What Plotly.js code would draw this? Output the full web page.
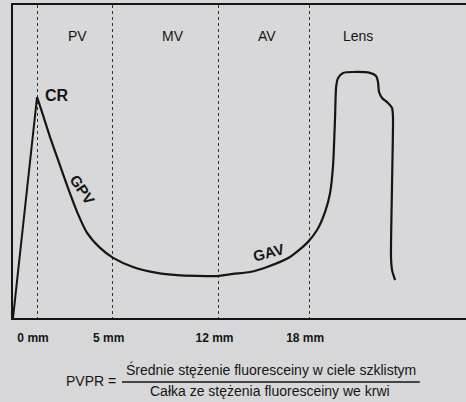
<!DOCTYPE html>
<html>
<head>
<meta charset="utf-8">
<script src="https://cdn.plot.ly/plotly-3.0.1.min.js"></script>
<style>
  html, body { margin: 0; padding: 0; background: #d7d7d9; }
  #chart { width: 466px; height: 402px; }
</style>
</head>
<body>
<div id="chart"></div>
<script>
// Position along the eye axis (mm) and relative fluorescein concentration (arbitrary units, 0-100)
const riseX = [-1.59, 0];
const riseY = [0, 70.6];

const curveX = [0, 0.33, 0.86, 1.39, 2.05, 2.71, 3.31, 4.17, 5.03, 6.35, 7.94, 9.26, 11.90, 12.96,
  14.09, 15.21, 16.73, 17.86, 18.52, 19.05, 19.38, 19.58, 19.71, 19.78, 19.91, 20.24, 20.90, 22.02,
  22.42, 22.55, 22.62, 22.82, 23.21, 23.48, 23.54, 23.48, 23.41, 23.48, 23.68];
const curveY = [70.6, 65.8, 57.8, 50.5, 41.5, 33.2, 27.2, 22.4, 19.2, 16.3, 14.4, 13.7, 13.4, 14.1,
  14.7, 16.3, 19.5, 24.0, 28.1, 33.9, 39.9, 48.9, 64.2, 73.8, 76.7, 78.3, 78.6, 78.3,
  77.3, 75.4, 72.2, 70.3, 68.7, 67.1, 64.2, 43.1, 19.5, 15.3, 12.1];

const tickVals = [0, 5, 12, 18];
const tickText = ['0 mm', '5 mm', '12 mm', '18 mm'];

const regionNames = ['PV', 'MV', 'AV', 'Lens'];
const regionX = [2.65, 9.0, 15.2, 21.2];
const regionY = [90.1, 90.1, 90.1, 90.1];

const curveLabels = ['CR', 'GPV', 'GAV'];
const curveLabelX = [1.32, 2.98, 15.28];
const curveLabelY = [71.2, 40.9, 20.8];
const curveLabelAngle = [0, 56, -15];

const formulaLeft = 'PVPR =';
const formulaNum = 'Średnie stężenie fluoresceiny w ciele szklistym';
const formulaDen = 'Całka ze stężenia fluoresceiny we krwi';

const ink = '#151515';
const font = 'Liberation Sans, Arial, sans-serif';

const traces = [
  { x: riseX, y: riseY, type: 'scatter', mode: 'lines',
    line: { color: ink, width: 2 }, hoverinfo: 'skip', showlegend: false },
  { x: curveX, y: curveY, type: 'scatter', mode: 'lines',
    line: { color: ink, width: 2.2, shape: 'spline', smoothing: 0.6 }, hoverinfo: 'skip', showlegend: false }
];

const annotations = [];
regionNames.forEach((t, i) => annotations.push({
  x: regionX[i], y: regionY[i], xref: 'x', yref: 'y', text: t, showarrow: false,
  xanchor: 'center', yanchor: 'middle',
  font: { family: font, size: 14, color: ink }
}));
curveLabels.forEach((t, i) => annotations.push({
  x: curveLabelX[i], y: curveLabelY[i], xref: 'x', yref: 'y', text: '<b>' + t + '</b>', showarrow: false,
  xanchor: 'center', yanchor: 'middle',
  textangle: curveLabelAngle[i], font: { family: font, size: i === 0 ? 16 : 15, color: ink }
}));
const formula = [
  { text: formulaLeft, x: 0.172, y: -0.201 },
  { text: formulaNum, x: 0.5695, y: -0.163 },
  { text: formulaDen, x: 0.567, y: -0.233 }
];
formula.forEach(f => annotations.push({
  x: f.x, y: f.y, xref: 'paper', yref: 'paper', text: f.text, showarrow: false,
  xanchor: 'center', yanchor: 'middle',
  font: { family: font, size: 14, color: ink }
}));

const layout = {
  width: 466, height: 402,
  margin: { l: 13, r: 0, t: 5, b: 84 },
  paper_bgcolor: '#d7d7d9',
  plot_bgcolor: '#d8d8da',
  showlegend: false,
  xaxis: {
    range: [-1.59, 28.37], tickvals: tickVals, ticktext: tickText,
    showgrid: true, gridcolor: '#333', griddash: 'dot', gridwidth: 1,
    zeroline: false, showline: true, linecolor: ink, linewidth: 2, mirror: true,
    ticks: '', ticklabelstandoff: 8, ticklabelshift: -4,
    tickfont: { family: font, size: 12, color: ink, weight: 'bold' },
    fixedrange: true
  },
  yaxis: {
    range: [0, 100], showgrid: false, zeroline: false, showticklabels: false,
    showline: true, linecolor: ink, linewidth: 2, ticks: '', fixedrange: true
  },
  shapes: [
    { type: 'line', xref: 'paper', yref: 'paper', x0: 0.2406, x1: 0.898, y0: -0.2045, y1: -0.2045,
      line: { color: ink, width: 1.3 } }
  ],
  annotations: annotations
};

Plotly.newPlot('chart', traces, layout, { staticPlot: true, displayModeBar: false });
</script>
</body>
</html>
